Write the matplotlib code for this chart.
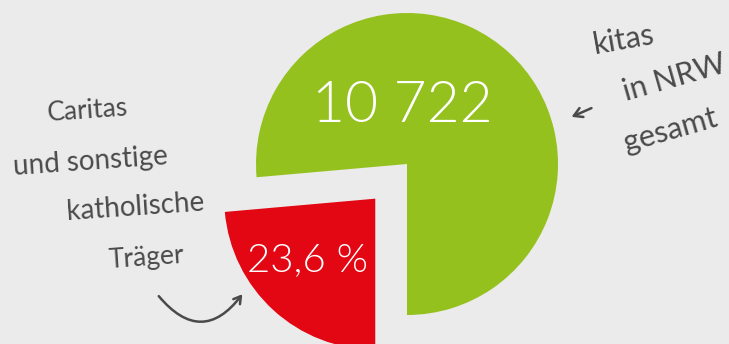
import matplotlib
matplotlib.use("Agg")
import matplotlib.pyplot as plt

# Data
categories = ["Caritas und sonstige katholische Träger", "übrige Träger"]
shares = [23.6, 76.4]
total_label = "10 722"
share_label = "23,6 %"
colors = ["#e30613", "#95c11f"]

left_lines = ["Caritas", "und sonstige", "katholische", "Träger"]
right_lines = ["kitas", "in NRW", "gesamt"]

W, H = 729, 344
BG = "#ebebeb"
INK = "#4a4a4a"
FONT = ["Lato", "DejaVu Sans"]

fig = plt.figure(figsize=(W / 100, H / 100), dpi=100, facecolor=BG)
ax = fig.add_axes([0, 0, 1, 1])
ax.set_xlim(0, W)
ax.set_ylim(0, H)
ax.set_aspect("equal")
ax.axis("off")
ax.set_facecolor(BG)

def Y(y):
    return H - y

cx, cy, r = 407, Y(164), 151
start = 270 - shares[0] * 3.6
wedges, _ = ax.pie(shares, colors=colors, startangle=start, radius=r,
                   center=(cx, cy), explode=[47, 0], frame=True,
                   wedgeprops=dict(linewidth=0))
ax.set_xlim(0, W)
ax.set_ylim(0, H)
ax.axis("off")

ax.text(402, Y(106), total_label, color="white", fontsize=41,
        fontweight=300, family=FONT, ha="center", va="center")
ax.text(308, Y(260), share_label, color="white", fontsize=29,
        fontweight=300, family=FONT, ha="center", va="center")

left_pos = [(88, 111), (90, 162), (135, 207), (146, 258)]
left_size = [19, 20, 20, 19]
for txt, (x, y), fs in zip(left_lines, left_pos, left_size):
    ax.text(x, Y(y), txt, color=INK, fontsize=fs, fontweight="normal",
            family=FONT, ha="center", va="center", rotation=4)

right_pos = [(624, 40), (674, 78), (670, 130)]
right_rot = [10, 16, 16]
for txt, (x, y), rot in zip(right_lines, right_pos, right_rot):
    ax.text(x, Y(y), txt, color=INK, fontsize=22, fontweight="normal",
            family=FONT, ha="center", va="center", rotation=rot,
            rotation_mode="anchor")

# small straight arrow
ax.annotate("", xy=(569, Y(118)), xytext=(594, Y(107)),
            arrowprops=dict(arrowstyle="->,head_length=0.6,head_width=0.35",
                            color=INK, lw=1.8))
# curved arrow
ax.annotate("", xy=(244, Y(292)), xytext=(157, Y(294)),
            arrowprops=dict(arrowstyle="->,head_length=0.5,head_width=0.3",
                            color=INK, lw=1.8,
                            connectionstyle="arc3,rad=0.65"))

fig.savefig("out.png", dpi=100, facecolor=BG)
